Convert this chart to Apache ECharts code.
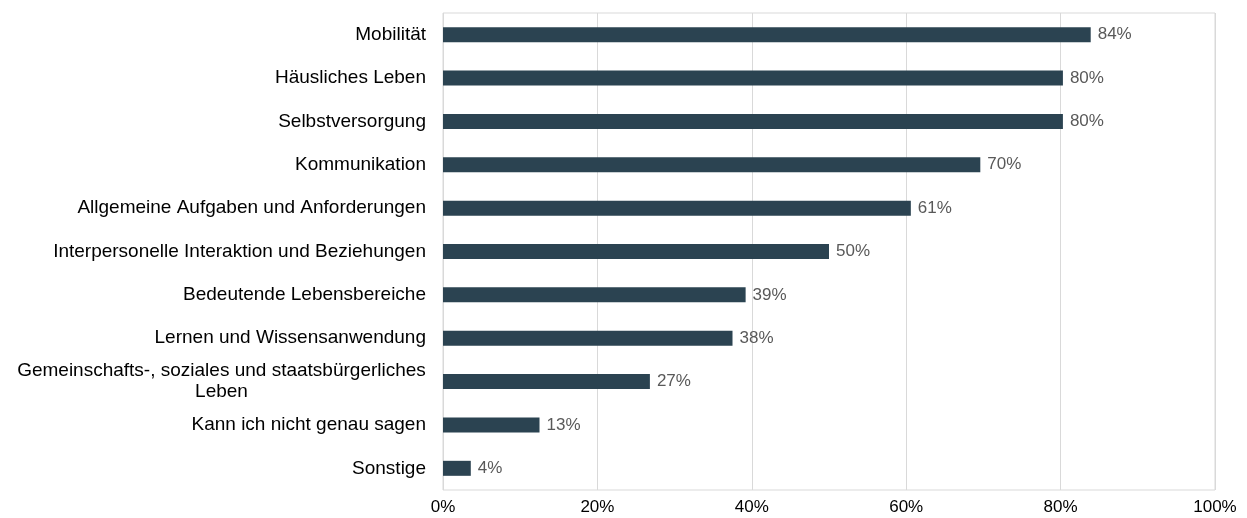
<!DOCTYPE html>
<html>
<head>
<meta charset="utf-8">
<script src="https://cdn.jsdelivr.net/npm/echarts@6/dist/echarts.min.js"></script>
<style>
  html, body { margin: 0; padding: 0; background: #fff; }
  #chart { width: 1247px; height: 518px; }
</style>
</head>
<body>
<div id="chart"></div>
<script>
// Kategorien von oben nach unten
const categories = [
  'Mobilität',
  'Häusliches Leben',
  'Selbstversorgung',
  'Kommunikation',
  'Allgemeine Aufgaben und Anforderungen',
  'Interpersonelle Interaktion und Beziehungen',
  'Bedeutende Lebensbereiche',
  'Lernen und Wissensanwendung',
  'Gemeinschafts-, soziales und staatsbürgerliches\nLeben',
  'Kann ich nicht genau sagen',
  'Sonstige'
];
// Anteile in Prozent
const values = [83.9, 80.3, 80.3, 69.6, 60.6, 50.0, 39.2, 37.5, 26.8, 12.5, 3.6];
const valueLabels = ['84%', '80%', '80%', '70%', '61%', '50%', '39%', '38%', '27%', '13%', '4%'];
const xTicks = [0, 20, 40, 60, 80, 100];

const FONT = 'Liberation Sans, Arial, sans-serif';
const CAT_SIZE = 19;

// Breite der längsten Zeile messen, damit die zweite Zeile zentriert steht
const ctx = document.createElement('canvas').getContext('2d');
ctx.font = CAT_SIZE + 'px ' + FONT;
const wrapWidth = Math.ceil(Math.max.apply(null,
  categories[8].split('\n').map(l => ctx.measureText(l).width)));

const chart = echarts.init(document.getElementById('chart'));
const option = {
  animation: false,
  grid: {
    left: 443, right: 32, top: 13, bottom: 28,
    show: true, borderColor: '#d9d9d9', borderWidth: 1
  },
  xAxis: {
    type: 'value',
    min: 0, max: 100, interval: 20,
    axisLine: { show: false },
    axisTick: { show: false },
    splitLine: { lineStyle: { color: '#d9d9d9', width: 1 } },
    axisLabel: {
      color: '#000', fontSize: 17, fontFamily: FONT, margin: 9,
      formatter: v => xTicks.indexOf(v) >= 0 ? v + '%' : ''
    }
  },
  yAxis: {
    type: 'category',
    inverse: true,
    data: categories,
    axisLine: { show: false },
    axisTick: { show: false },
    axisLabel: {
      color: '#000', fontSize: CAT_SIZE, fontFamily: FONT, margin: 17,
      formatter: function (v) {
        if (v.indexOf('\n') < 0) return v;
        return v.split('\n').map(l => '{c|' + l + '}').join('\n');
      },
      rich: {
        c: {
          width: wrapWidth, align: 'center',
          fontSize: CAT_SIZE, fontFamily: FONT, color: '#000', lineHeight: 21
        }
      }
    }
  },
  series: [{
    type: 'bar',
    data: values,
    barWidth: 15,
    itemStyle: { color: '#2b4351' },
    label: {
      show: true, position: 'right', distance: 7,
      color: '#595959', fontSize: 17, fontFamily: FONT,
      formatter: p => valueLabels[p.dataIndex]
    }
  }]
};
chart.setOption(option);
</script>
</body>
</html>
